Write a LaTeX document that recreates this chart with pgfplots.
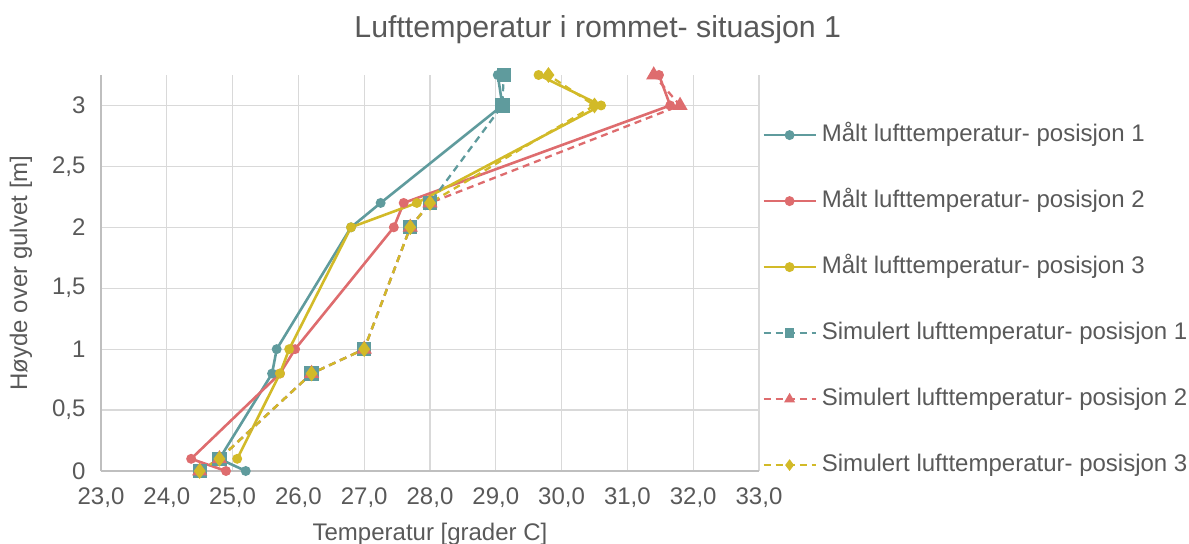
\documentclass[border=0pt]{standalone}
\usepackage{pgfplots}
\pgfplotsset{compat=1.18}
\usepackage{fontspec}
\setmainfont{Liberation Sans}
\definecolor{cteal}{RGB}{95,155,157}
\definecolor{cred}{RGB}{222,108,110}
\definecolor{cyel}{RGB}{210,186,40}
\definecolor{ctext}{RGB}{89,89,89}
\definecolor{cgrid}{RGB}{217,217,217}
\definecolor{caxis}{RGB}{191,191,191}
\begin{document}
\begin{tikzpicture}
\path[use as bounding box] (-101bp,-73bp) rectangle (1088bp,471bp);
\begin{axis}[
  at={(0,0)}, anchor=south west,
  scale only axis, width=658bp, height=396bp,
  xmin=23, xmax=33, ymin=0, ymax=3.25,
  xtick={23,24,...,33}, ytick={0,0.5,1,1.5,2,2.5,3},
  axis x line*=bottom, axis y line*=left,
  axis line style={-, draw=caxis, line width=1.2bp},
  every outer x axis line/.append style={-},
  every outer y axis line/.append style={-},
  grid=major, major grid style={draw=cgrid, line width=1.2bp},
  major tick length=0pt,
  /pgf/number format/assume math mode=true,
  /pgf/number format/use comma,
  tick label style={font=\fontsize{24bp}{28bp}\selectfont, text=ctext},
  x tick label style={/pgf/number format/.cd, fixed, fixed zerofill, precision=1, /tikz/.cd, yshift=-13bp},
  y tick label style={xshift=-12bp},
  title={Lufttemperatur i rommet- situasjon 1},
  title style={font=\fontsize{30.3bp}{36bp}\selectfont, text=ctext, at={(axis description cs:0.755,1)}, anchor=center, yshift=39bp},
  xlabel={Temperatur [grader C]},
  xlabel style={font=\fontsize{24bp}{28bp}\selectfont, text=ctext, at={(axis description cs:0.5,0)}, anchor=center, yshift=-63bp},
  ylabel={Høyde over gulvet [m]},
  ylabel style={font=\fontsize{24bp}{28bp}\selectfont, text=ctext, at={(axis description cs:0,0.5)}, anchor=center, yshift=80bp},
  legend cell align=left,
  legend style={at={(axis description cs:1.005,0.876)}, anchor=north west, draw=none, fill=none, inner sep=0pt, outer sep=0pt,
    font=\fontsize{24bp}{28bp}\selectfont, text=ctext, row sep=44bp,
    nodes={inner sep=0pt, text height=17bp, text depth=5bp},
    /tikz/every odd column/.append style={column sep=5bp}},
  legend image code/.code={\draw[mark repeat=2,mark phase=2,#1] plot coordinates {(0bp,0bp) (26bp,0bp) (52bp,0bp)};},
]
\addplot[cteal, line width=2.6bp, mark=*, mark size=3.6bp, mark options={solid, fill=cteal, draw=cteal}]
 coordinates {(25.2,0) (24.8,0.1) (25.6,0.8) (25.67,1) (26.8,2) (27.25,2.2) (29.1,3) (29.03,3.25)};
\addlegendentry{Målt lufttemperatur- posisjon 1}
\addplot[cred, line width=2.6bp, mark=*, mark size=3.6bp, mark options={solid, fill=cred, draw=cred}]
 coordinates {(24.9,0) (24.37,0.1) (25.72,0.8) (25.95,1) (27.45,2) (27.6,2.2) (31.65,3) (31.48,3.25)};
\addlegendentry{Målt lufttemperatur- posisjon 2}
\addplot[cyel, line width=2.6bp, mark=*, mark size=3.6bp, mark options={solid, fill=cyel, draw=cyel}]
 coordinates {(25.07,0.1) (25.72,0.8) (25.86,1) (26.8,2) (27.8,2.2) (30.6,3) (29.65,3.25)};
\addlegendentry{Målt lufttemperatur- posisjon 3}
\addplot[cteal, line width=2.3bp, dash pattern=on 7bp off 5bp, mark=square*, mark size=6bp, mark options={solid, fill=cteal, draw=cteal}, legend image post style={mark size=3.5bp}]
 coordinates {(24.5,0) (24.8,0.1) (26.2,0.8) (27.0,1) (27.7,2) (28.0,2.2) (29.1,3) (29.12,3.25)};
\addlegendentry{Simulert lufttemperatur- posisjon 1}
\addplot[cred, line width=2.3bp, dash pattern=on 7bp off 5bp, mark=triangle*, mark size=6.5bp, mark options={solid, fill=cred, draw=cred}, legend image post style={mark size=4bp}]
 coordinates {(24.5,0) (24.8,0.1) (26.2,0.8) (27.0,1) (27.7,2) (28.0,2.2) (31.8,3) (31.4,3.25)};
\addlegendentry{Simulert lufttemperatur- posisjon 2}
\addplot[cyel, line width=2.3bp, dash pattern=on 7bp off 5bp, mark=diamond*, mark size=6bp, mark options={solid, fill=cyel, draw=cyel}, legend image post style={mark size=4bp}]
 coordinates {(24.5,0) (24.8,0.1) (26.2,0.8) (27.0,1) (27.7,2) (28.0,2.2) (30.5,3) (29.8,3.25)};
\addlegendentry{Simulert lufttemperatur- posisjon 3}
\end{axis}
\end{tikzpicture}
\end{document}
